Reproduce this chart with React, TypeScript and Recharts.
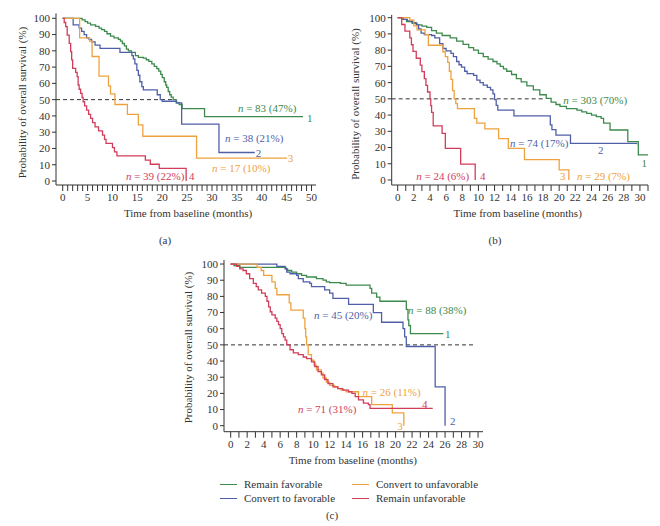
import React from "react";
import {
  LineChart,
  Line,
  XAxis,
  YAxis,
  ReferenceLine,
  ReferenceDot,
  Legend,
} from "recharts";

type Pt = [number, number];

// [time from baseline (months), overall survival (%)]
// panel (a)
const aRemainFav: Pt[] = [
  [0, 100], [3.9, 99], [4.5, 98], [5, 97], [5.6, 96], [6.6, 95], [7.3, 94], [7.8, 93],
  [8.4, 92], [8.9, 90.5], [9.6, 89], [10.3, 88], [11.2, 87], [11.6, 86], [12, 84.5],
  [12.4, 83], [12.8, 81], [13.2, 80], [13.8, 79], [14.6, 77], [15.2, 76], [16.2, 75.5],
  [16.8, 74.5], [17.3, 73.5], [17.9, 72], [18.4, 70.5], [18.9, 69], [19.3, 67.5],
  [19.7, 65.5], [20, 63.5], [20.4, 61], [20.7, 59], [20.9, 57.5], [21.2, 55], [21.5, 53],
  [21.8, 51.5], [22.2, 50], [22.8, 48], [23.4, 47], [24, 44.5], [28.5, 39.5], [48.3, 39.5],
];
const aConvertFav: Pt[] = [
  [0, 100], [2.1, 96], [3.3, 94], [3.8, 92], [4.3, 90], [4.8, 88], [5.3, 87], [5.8, 85.5],
  [6.5, 83.5], [7.5, 81.5], [11.5, 79], [13.9, 77], [14.2, 75], [14.5, 72], [14.9, 68],
  [15.2, 65], [15.5, 61], [15.9, 58], [16.2, 56], [19, 53], [19.6, 50], [20, 49],
  [22.9, 48], [23.9, 35], [31.4, 17.5], [38.6, 17.5],
];
const aConvertUnfav: Pt[] = [
  [0, 100], [3.4, 88], [5.4, 86], [5.9, 76.5], [7.3, 64.5], [9.2, 58.5], [9.6, 53.5],
  [10.5, 47], [13, 41], [15.2, 34.5], [16.1, 27.5], [26.9, 14], [45.1, 14],
];
const aRemainUnfav: Pt[] = [
  [0, 100], [0.3, 97.4], [0.6, 94.9], [0.9, 89.7], [1.3, 84.6], [1.6, 79.5], [1.8, 74.4],
  [2, 69.2], [2.6, 66.7], [2.9, 64.1], [3.1, 59], [3.3, 56.4], [3.6, 53.8], [3.9, 51.3],
  [4.1, 48.7], [4.4, 46.2], [4.8, 43.6], [5.2, 41], [5.6, 38.5], [6, 35.9], [6.5, 33.3],
  [7.2, 30.8], [8, 28.2], [8.4, 25.6], [8.7, 23.1], [10, 20.5], [10.4, 17.9], [10.9, 15.4],
  [16.6, 12.8], [17.6, 10.3], [19.4, 7.7], [24.8, 0],
];

// panel (b)
const bRemainFav: Pt[] = [
  [0, 100], [0.5, 99], [1.1, 97.5], [1.8, 96.5], [2.4, 95.5], [3, 94.8], [3.6, 94],
  [4.2, 92], [4.8, 90.5], [5.5, 89], [6.5, 87.5], [7.3, 85.5], [8.1, 83.5], [8.8, 81.5],
  [9.4, 80], [10, 78], [10.6, 76], [11.2, 74.5], [11.8, 73], [12.3, 71.5], [12.7, 70],
  [13.1, 68.5], [13.5, 67], [14.1, 65], [14.7, 62.5], [15.3, 60.5], [16, 58], [16.8, 55.5],
  [17.6, 52.5], [18.4, 50.3], [19, 48], [19.6, 46.5], [20.1, 45.3], [20.9, 44], [22.2, 43],
  [22.8, 42], [23.4, 41], [24, 40], [24.6, 39], [25.2, 38], [25.5, 35], [26.3, 30.8],
  [28.5, 23.6], [29.8, 15.5], [31.3, 0],
];
const bConvertFav: Pt[] = [
  [0, 100], [0.7, 99], [1.2, 98], [1.8, 97], [2.3, 95.5], [2.6, 93], [2.9, 90.5],
  [3.3, 89.5], [4.2, 89], [4.6, 87.5], [5.2, 84], [5.6, 81], [6, 79.5], [6.6, 78],
  [6.9, 76], [7.3, 73], [7.6, 71], [7.9, 69.5], [8.3, 67], [8.6, 65.5], [9.4, 64.5],
  [9.8, 61.5], [10.2, 60], [10.6, 58.5], [11.1, 57], [11.5, 55.5], [11.8, 53], [12, 49.5],
  [12.2, 46], [12.4, 43], [14.4, 39.5], [18.9, 34], [19.1, 31], [19.6, 27.7], [21.4, 22.5],
  [29.6, 22],
];
const bConvertUnfav: Pt[] = [
  [0, 100], [1.5, 98.5], [2, 95], [2.4, 92.5], [3.4, 89.5], [3.8, 83], [5.6, 79],
  [5.9, 76], [6.2, 72.5], [6.4, 67], [6.6, 62], [6.8, 55], [7, 50], [7.2, 47], [7.4, 44],
  [9.5, 38], [9.8, 35], [10.8, 31.5], [12.5, 25.5], [13.7, 19.5], [15.7, 12.5], [20, 6.2],
  [21.2, 0],
];
const bRemainUnfav: Pt[] = [
  [0, 100], [0.5, 95.8], [0.9, 91.7], [1.5, 87.5], [1.7, 83.3], [1.9, 79.2], [2.3, 75],
  [2.8, 70.8], [3, 66.7], [3.3, 62.5], [3.5, 58.3], [3.7, 54.2], [4, 50], [4.1, 45.8],
  [4.2, 41.7], [4.4, 33.3], [5.5, 28.7], [5.9, 19.5], [7.8, 9.8], [9.6, 0],
];

// panel (c)
const cRemainFav: Pt[] = [
  [0, 100], [0.4, 99], [1.1, 98], [6.7, 97], [6.9, 96], [7.4, 95], [8, 94], [8.6, 93],
  [9.2, 92], [10.4, 91], [11.2, 90], [11.6, 89], [12, 88.5], [13.3, 88], [14, 87],
  [16.9, 85], [17.1, 82], [17.7, 79.5], [18.1, 77], [21.3, 72], [21.5, 65.5], [21.6, 62],
  [21.8, 57], [25.8, 57],
];
const cConvertFav: Pt[] = [
  [0, 100], [5.6, 98.5], [6.6, 97], [6.8, 95], [7.2, 94], [8, 93], [8.2, 91], [8.8, 89],
  [9.6, 88], [9.8, 86], [11.4, 84], [12, 82], [12.4, 78.8], [14.3, 75], [17.3, 70],
  [18.3, 64], [20.9, 60], [21.1, 55], [21.3, 49], [24.8, 24], [26, 0],
];
const cConvertUnfav: Pt[] = [
  [0, 100], [3.2, 98], [3.7, 96], [4, 93], [5, 89], [5.4, 85], [5.6, 81], [7.1, 76],
  [7.3, 71.5], [8.8, 66.5], [9, 60], [9.1, 55], [9.2, 50], [9.4, 44], [9.8, 40.5],
  [10.1, 37.5], [10.4, 34.5], [11, 32.5], [11.2, 29.5], [11.6, 27], [12, 25], [12.6, 24],
  [13, 23], [13.4, 22], [14, 21], [15.5, 18], [17.1, 13], [19.6, 8], [21, 0],
];
const cRemainUnfav: Pt[] = [
  [0, 100], [0.7, 98.5], [1.1, 97], [1.5, 96], [1.9, 94], [2.3, 91], [2.75, 88], [3.1, 86],
  [3.35, 84], [3.75, 82], [4.2, 80], [4.4, 77], [4.6, 73.5], [4.8, 70.5], [5, 68.5],
  [5.4, 66.5], [5.6, 64.5], [5.8, 62.5], [6, 60], [6.2, 57], [6.4, 55], [6.6, 53],
  [6.8, 50], [7.2, 47], [7.6, 45], [8.2, 44], [8.8, 42.5], [9.2, 41.5], [9.8, 39.5],
  [10.2, 36.5], [10.6, 33.5], [11, 31.5], [11.4, 28.5], [11.8, 26], [12.4, 24], [13, 23],
  [13.6, 22], [14.3, 21], [14.7, 20], [15.1, 18], [15.5, 16], [16.1, 14], [16.7, 13],
  [16.9, 10.7], [24.5, 10.7],
];

const yTicks = [0, 10, 20, 30, 40, 50, 60, 70, 80, 90, 100];
const ticksA = [
  0, 1, 2, 3, 4, 5, 6, 7, 8, 9, 10, 11, 12, 13, 14, 15, 16, 17, 18, 19, 20, 21, 22, 23, 24, 25,
  26, 27, 28, 29, 30, 31, 32, 33, 34, 35, 36, 37, 38, 39, 40, 41, 42, 43, 44, 45, 46, 47, 48,
  49, 50,
];
const ticksB = [
  0, 1, 2, 3, 4, 5, 6, 7, 8, 9, 10, 11, 12, 13, 14, 15, 16, 17, 18, 19, 20, 21, 22, 23, 24, 25,
  26, 27, 28, 29, 30, 31,
];
const ticksC = [
  0, 1, 2, 3, 4, 5, 6, 7, 8, 9, 10, 11, 12, 13, 14, 15, 16, 17, 18, 19, 20, 21, 22, 23, 24, 25,
  26, 27, 28, 29, 30,
];

const groupNames = ["Remain favorable", "Convert to favorable", "Convert to unfavorable", "Remain unfavorable"];

const GREEN = "#3d8a4e";
const BLUE = "#4f5fa8";
const ORANGE = "#eea23e";
const RED = "#d23d5a";
const colors = [GREEN, BLUE, ORANGE, RED];
const AXIS = "#333";
const FONT = "'Liberation Serif', 'DejaVu Serif', serif";

type Note = { t: number; s: number; text: string; color: string };

const rows = (pts: Pt[]) => pts.map(([t, s]) => ({ t, s }));

const NoteText = ({ cx, cy, note }: any) => {
  const italicN = note.text.startsWith("n ");
  return (
    <text x={cx} y={cy} dy="0.35em" fill={note.color} fontSize={11} fontFamily={FONT}>
      {italicN ? (
        <>
          <tspan fontStyle="italic">n</tspan>
          {note.text.slice(1)}
        </>
      ) : (
        note.text
      )}
    </text>
  );
};

// two columns, filled top-to-bottom, in series order
const LegendBox = ({ payload }: any) => {
  const items = [...(payload || [])].sort(
    (a: any, b: any) => groupNames.indexOf(a.value) - groupNames.indexOf(b.value)
  );
  return (
    <div
      style={{
        display: "grid",
        gridTemplateColumns: "132px 132px",
        gridTemplateRows: "14px 14px",
        gridAutoFlow: "column",
        fontFamily: FONT,
        fontSize: 11,
        color: AXIS,
      }}
    >
      {items.map((p: any) => (
        <div key={p.value} style={{ display: "flex", alignItems: "center", whiteSpace: "nowrap" }}>
          <span style={{ display: "inline-block", width: 17, height: 0, borderTop: `1.5px solid ${p.color}`, marginRight: 7 }} />
          {p.value}
        </div>
      ))}
    </div>
  );
};

type PanelProps = {
  left: number;
  top: number;
  width: number;
  height: number;
  margin: { top: number; right: number; bottom: number; left: number };
  yAxisWidth: number;
  xDomain: [number, number];
  yDomain: [number, number];
  xTicks: number[];
  labelStep: number;
  dashTo: number;
  series: Pt[][];
  notes: Note[];
  xTitle: [number, number];
  yTitle: [number, number];
  legend?: boolean;
};

const Panel = (p: PanelProps) => (
  <div style={{ position: "absolute", left: p.left, top: p.top }}>
    <LineChart width={p.width} height={p.height} margin={p.margin}>
      <XAxis
        type="number"
        dataKey="t"
        domain={p.xDomain}
        allowDataOverflow
        ticks={p.xTicks}
        interval={0}
        tickFormatter={(v: number) => (v % p.labelStep === 0 ? String(v) : "")}
        tickSize={6}
        tickMargin={2}
        height={36}
        stroke={AXIS}
        tick={{ fontSize: 11, fill: AXIS, fontFamily: FONT }}
        label={() => (
          <text x={p.xTitle[0]} y={p.xTitle[1]} dy="0.35em" textAnchor="middle" fontSize={11} fontFamily={FONT} fill={AXIS}>
            Time from baseline (months)
          </text>
        )}
      />
      <YAxis
        type="number"
        domain={p.yDomain}
        allowDataOverflow
        ticks={yTicks}
        interval={0}
        width={p.yAxisWidth}
        tickSize={4}
        tickMargin={2}
        stroke={AXIS}
        tick={{ fontSize: 11, fill: AXIS, fontFamily: FONT }}
        label={() => (
          <text
            x={p.yTitle[0]}
            y={p.yTitle[1]}
            dy="0.35em"
            textAnchor="middle"
            transform={`rotate(-90, ${p.yTitle[0]}, ${p.yTitle[1]})`}
            fontSize={11}
            fontFamily={FONT}
            fill={AXIS}
          >
            Probability of overall survival (%)
          </text>
        )}
      />
      <ReferenceLine
        segment={[
          { x: p.xDomain[0], y: 50 },
          { x: p.dashTo, y: 50 },
        ]}
        stroke={AXIS}
        strokeDasharray="4 3"
        strokeWidth={1}
      />
      {p.series.map((pts, i) => (
        <Line
          key={groupNames[i]}
          name={groupNames[i]}
          data={rows(pts)}
          dataKey="s"
          type="stepAfter"
          stroke={colors[i]}
          strokeWidth={1.3}
          dot={false}
          activeDot={false}
          isAnimationActive={false}
        />
      ))}
      {p.notes.map((n) => (
        <ReferenceDot
          key={n.text + n.t}
          x={n.t}
          y={n.s}
          r={1}
          ifOverflow="visible"
          shape={(props: any) => <NoteText cx={props.cx} cy={props.cy} note={n} />}
        />
      ))}
      {p.legend && (
        <Legend
          layout="horizontal"
          verticalAlign="middle"
          align="center"
          wrapperStyle={{ left: 50, top: 237, width: 280, height: 28 }}
          content={<LegendBox />}
        />
      )}
    </LineChart>
  </div>
);

const notesA: Note[] = [
  { t: 35.2, s: 44.8, text: "n = 83 (47%)", color: GREEN },
  { t: 49.1, s: 38.7, text: "1", color: GREEN },
  { t: 32.6, s: 26.4, text: "n = 38 (21%)", color: BLUE },
  { t: 38.8, s: 17.2, text: "2", color: BLUE },
  { t: 45.2, s: 14.1, text: "3", color: ORANGE },
  { t: 30, s: 8, text: "n = 17 (10%)", color: ORANGE },
  { t: 12.7, s: 3.1, text: "n = 39 (22%)", color: RED },
  { t: 25.4, s: 3.1, text: "4", color: RED },
];
const notesB: Note[] = [
  { t: 20.5, s: 49.3, text: "n = 303 (70%)", color: GREEN },
  { t: 30.2, s: 10.5, text: "1", color: GREEN },
  { t: 13.9, s: 22.8, text: "n = 74 (17%)", color: BLUE },
  { t: 24.8, s: 18.5, text: "2", color: BLUE },
  { t: 20.1, s: 2.5, text: "3", color: ORANGE },
  { t: 22.2, s: 2.5, text: "n = 29 (7%)", color: ORANGE },
  { t: 2.3, s: 2.5, text: "n = 24 (6%)", color: RED },
  { t: 10.2, s: 2.5, text: "4", color: RED },
];
const notesC: Note[] = [
  { t: 21.5, s: 71.6, text: "n = 88 (38%)", color: GREEN },
  { t: 26, s: 56.7, text: "1", color: GREEN },
  { t: 10.1, s: 68.5, text: "n = 45 (20%)", color: BLUE },
  { t: 26.6, s: 2.9, text: "2", color: BLUE },
  { t: 16, s: 20.8, text: "n = 26 (11%)", color: ORANGE },
  { t: 20.2, s: -0.2, text: "3", color: ORANGE },
  { t: 8.15, s: 10.3, text: "n = 71 (31%)", color: RED },
  { t: 23.2, s: 13.4, text: "4", color: RED },
];

const Caption = ({ x, y, text }: { x: number; y: number; text: string }) => (
  <div
    style={{
      position: "absolute",
      left: x,
      top: y,
      transform: "translate(-50%, -50%)",
      fontFamily: FONT,
      fontSize: 11,
      color: AXIS,
    }}
  >
    {text}
  </div>
);

export default function App() {
  return (
    <div style={{ position: "absolute", left: 0, top: 0, width: 660, height: 526, background: "#fff", overflow: "hidden" }}>
      <Panel
        left={0}
        top={0}
        width={330}
        height={230}
        margin={{ top: 13.4, right: 14, bottom: 9, left: 0 }}
        yAxisWidth={56}
        xDomain={[-1.35, 50.9]}
        yDomain={[-2.46, 103]}
        xTicks={ticksA}
        labelStep={5}
        dashTo={22.2}
        series={[aRemainFav, aConvertFav, aConvertUnfav, aRemainUnfav]}
        notes={notesA}
        xTitle={[188, 213]}
        yTitle={[22, 102.5]}
      />
      <Panel
        left={330}
        top={0}
        width={330}
        height={230}
        margin={{ top: 14.9, right: 12, bottom: 9, left: 0 }}
        yAxisWidth={61.7}
        xDomain={[-0.74, 31]}
        yDomain={[-3.08, 101.7]}
        xTicks={ticksB}
        labelStep={2}
        dashTo={18}
        series={[bRemainFav, bConvertFav, bConvertUnfav, bRemainUnfav]}
        notes={notesB}
        xTitle={[187.7, 213]}
        yTitle={[25, 104]}
      />
      <Panel
        left={170}
        top={240}
        width={330}
        height={286}
        margin={{ top: 20, right: 17, bottom: 58.3, left: 0 }}
        yAxisWidth={54}
        xDomain={[-0.81, 30.6]}
        yDomain={[-3.7, 102.5]}
        xTicks={ticksC}
        labelStep={2}
        dashTo={29.6}
        series={[cRemainFav, cConvertFav, cConvertUnfav, cRemainUnfav]}
        notes={notesC}
        xTitle={[182.8, 220]}
        yTitle={[18, 107.5]}
        legend
      />
      <Caption x={165} y={240} text="(a)" />
      <Caption x={495} y={240} text="(b)" />
      <Caption x={332} y={515} text="(c)" />
    </div>
  );
}
